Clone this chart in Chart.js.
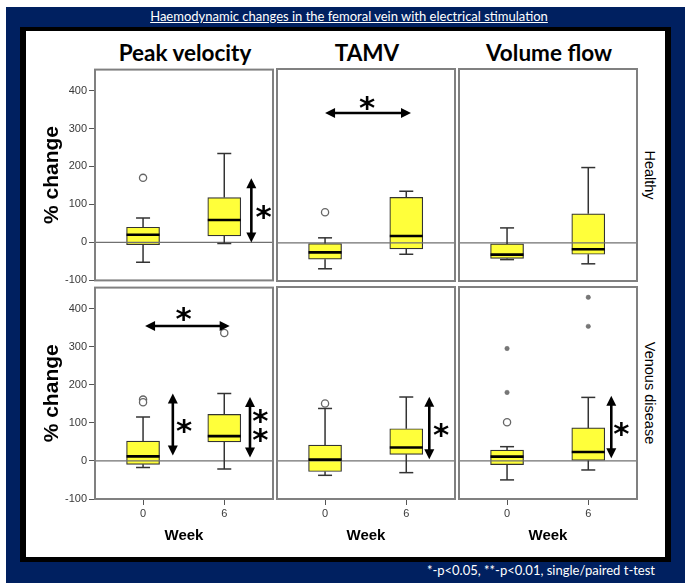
<!DOCTYPE html>
<html>
<head>
<meta charset="utf-8">
<script src="https://cdn.jsdelivr.net/npm/chart.js@4.4.1/dist/chart.umd.min.js"></script>
<style>
  body { margin: 0; width: 685px; height: 583px; position: relative; background: #fff; overflow: hidden; }
  .navy { position: absolute; left: 6px; top: 7px; width: 679px; height: 576px; background: #002060; }
  .frame { position: absolute; left: 20px; top: 27px; width: 639px; height: 526px; background: #fff;
           border-style: solid; border-color: #000; border-width: 4px 6px 5px 6px; }
  .txt { position: absolute; transform: translate(-50%, -50%); white-space: nowrap; }
  .title { left: 349px; top: 16px; color: #fff; font: 13px Lato, sans-serif; text-decoration: underline; }
  .col { top: 52px; font: bold 22.5px Lato, sans-serif; color: #000; }
  .row { left: 650px; font: 14.5px "Liberation Sans", sans-serif; color: #000; transform: translate(-50%, -50%) rotate(90deg); }
  .note { right: 30px; top: 562px; position: absolute; color: #fff; font: 13px Lato, sans-serif; }
  canvas { position: absolute; }
</style>
</head>
<body>
<div class="navy"></div>
<div class="frame"></div>
<div class="txt title">Haemodynamic changes in the femoral vein with electrical stimulation</div>
<div class="note">*-p&lt;0.05, **-p&lt;0.01, single/paired t-test</div>
<div id="wrap"></div>
<script>
const weeks = [0, 6];
const measures = ['Peak velocity', 'TAMV', 'Volume flow'];
const groups = ['Healthy', 'Venous disease'];
const yTicks = [-100, 0, 100, 200, 300, 400];

// box stats per week: [min, q1, median, q3, max]
const healthyPeak = [[-52, -6, 20, 40, 64], [-3, 17, 59, 118, 234]];
const healthyTamv = [[-68, -43, -25, -2, 13], [-30, -16, 18, 119, 135]];
const healthyFlow = [[-44, -41, -31, -3, 39], [-55, -30, -17, 76, 197]];
const venousPeak = [[-17, -9, 12, 52, 115], [-21, 50, 65, 122, 177]];
const venousTamv = [[-38, -28, 3, 41, 137], [-31, 17, 35, 84, 167]];
const venousFlow = [[-50, -10, 11, 28, 37], [-24, 1, 23, 86, 166]];

// outliers (open circles) and extremes (small dots), per week
const healthyPeakOut = [[170], []];
const healthyTamvOut = [[80], []];
const healthyFlowOut = [[], []];
const venousPeakOut = [[161, 154], [336]];
const venousTamvOut = [[150], []];
const venousFlowOut = [[101], []];
const venousFlowExt = [[294, 179], [428, 352]];

// significance arrows [x1, y1, x2, y2] and asterisks [x, y]
const healthyPeakArrows = [[8, 0, 8, 169]];
const healthyPeakStars = [[8.9, 78]];
const healthyTamvArrows = [[0, 340, 6.35, 340]];
const healthyTamvStars = [[3.1, 365]];
const venousPeakArrows = [[0.15, 354, 6.4, 354], [2.2, 14, 2.2, 177], [7.9, 9, 7.9, 168]];
const venousPeakStars = [[3.0, 384], [3.04, 90], [8.67, 116], [8.67, 68]];
const venousTamvArrows = [[7.7, 4, 7.7, 168]];
const venousTamvStars = [[8.57, 79]];
const venousFlowArrows = [[7.7, 7, 7.7, 170]];
const venousFlowStars = [[8.44, 81]];

const panels = [
  { row: 0, col: 0, box: healthyPeak, out: healthyPeakOut, ext: [[], []], arrows: healthyPeakArrows, stars: healthyPeakStars },
  { row: 0, col: 1, box: healthyTamv, out: healthyTamvOut, ext: [[], []], arrows: healthyTamvArrows, stars: healthyTamvStars },
  { row: 0, col: 2, box: healthyFlow, out: healthyFlowOut, ext: [[], []], arrows: [], stars: [] },
  { row: 1, col: 0, box: venousPeak, out: venousPeakOut, ext: [[], []], arrows: venousPeakArrows, stars: venousPeakStars },
  { row: 1, col: 1, box: venousTamv, out: venousTamvOut, ext: [[], []], arrows: venousTamvArrows, stars: venousTamvStars },
  { row: 1, col: 2, box: venousFlow, out: venousFlowOut, ext: venousFlowExt, arrows: venousFlowArrows, stars: venousFlowStars }
];

// layout
const colLeft = [95, 277, 459];
const rowTop = [69, 287];
const W = 178, H = 212, PAD = 8;
const Y_AXIS_W = 55, X_AXIS_H = 46;
const X_MIN = -3.55, X_MAX = 9.6, Y_MIN = -100, Y_MAX = 455;
const tickFont = { family: 'Liberation Sans', size: 11 };

// headings
const wrap = document.getElementById('wrap');
function addText(cls, text, left, top) {
  const d = document.createElement('div');
  d.className = 'txt ' + cls;
  d.textContent = text;
  d.style.left = left + 'px';
  if (top != null) d.style.top = top + 'px';
  wrap.appendChild(d);
}
measures.forEach((m, i) => addText('col', m, colLeft[i] + W / 2 + 1, null));
groups.forEach((g, i) => addText('row', g, 650, rowTop[i] + H / 2));

function drawArrow(ctx, x1, y1, x2, y2) {
  const len = Math.hypot(x2 - x1, y2 - y1);
  const ux = (x2 - x1) / len, uy = (y2 - y1) / len;
  const hl = 10, hw = 5;
  ctx.lineWidth = 2.6;
  ctx.beginPath();
  ctx.moveTo(x1 + ux * hl * 0.8, y1 + uy * hl * 0.8);
  ctx.lineTo(x2 - ux * hl * 0.8, y2 - uy * hl * 0.8);
  ctx.stroke();
  [[x1, y1, -1], [x2, y2, 1]].forEach(([tx, ty, s]) => {
    const bx = tx - s * ux * hl, by = ty - s * uy * hl;
    ctx.beginPath();
    ctx.moveTo(tx, ty);
    ctx.lineTo(bx - uy * hw, by + ux * hw);
    ctx.lineTo(bx + uy * hw, by - ux * hw);
    ctx.closePath();
    ctx.fill();
  });
}

function annotator(p) {
  return {
    id: 'annotate',
    afterDatasetsDraw(chart) {
      const { ctx, chartArea: a, scales: { x, y } } = chart;
      ctx.save();
      ctx.strokeStyle = '#808080';
      ctx.lineWidth = 2;
      ctx.strokeRect(a.left, a.top, a.width, a.height);
      ctx.fillStyle = '#000';
      ctx.strokeStyle = '#000';
      p.arrows.forEach(([x1, y1, x2, y2]) =>
        drawArrow(ctx, x.getPixelForValue(x1), y.getPixelForValue(y1), x.getPixelForValue(x2), y.getPixelForValue(y2)));
      ctx.font = 'bold 31px "DejaVu Sans"';
      ctx.textAlign = 'center';
      ctx.textBaseline = 'alphabetic';
      const m = ctx.measureText('*');
      const shift = (m.actualBoundingBoxAscent - m.actualBoundingBoxDescent) / 2;
      p.stars.forEach(([sx, sy]) => ctx.fillText('*', x.getPixelForValue(sx), y.getPixelForValue(sy) + shift));
      ctx.restore();
    }
  };
}

function makePanel(p) {
  const showY = p.col === 0, showX = p.row === 1;
  const yW = showY ? Y_AXIS_W : 0;
  const xH = showX ? X_AXIS_H : 0;
  const cv = document.createElement('canvas');
  const cw = W + yW + 2 * PAD, ch = H + xH + 2 * PAD;
  cv.width = cw; cv.height = ch;
  cv.style.left = (colLeft[p.col] - yW - PAD) + 'px';
  cv.style.top = (rowTop[p.row] - PAD) + 'px';
  cv.style.width = cw + 'px'; cv.style.height = ch + 'px';
  wrap.appendChild(cv);

  const boxData = weeks.map((w, i) => ({ x: w, y: [p.box[i][1], p.box[i][3]] }));
  const whiskers = weeks.flatMap((w, i) => [
    { x: w, y: p.box[i][4] }, { x: w, y: p.box[i][3] }, { x: w, y: null },
    { x: w, y: p.box[i][1] }, { x: w, y: p.box[i][0] }, { x: w, y: null }
  ]);
  const caps = weeks.flatMap((w, i) => [{ x: w, y: p.box[i][0] }, { x: w, y: p.box[i][4] }]);
  const medians = weeks.map((w, i) => ({ x: w, y: p.box[i][2] }));
  const outliers = weeks.flatMap((w, i) => p.out[i].map(v => ({ x: w, y: v })));
  const extremes = weeks.flatMap((w, i) => p.ext[i].map(v => ({ x: w, y: v })));

  new Chart(cv, {
    type: 'bar',
    data: {
      datasets: [
        { data: boxData, backgroundColor: '#ffff3a', borderColor: '#333', borderWidth: 1.2,
          borderSkipped: false, barThickness: 33, grouped: false, order: 5 },
        { type: 'line', data: [{ x: X_MIN, y: 0 }, { x: X_MAX, y: 0 }], borderColor: '#707070',
          borderWidth: 1.2, pointRadius: 0, order: 4 },
        { type: 'line', data: whiskers, borderColor: '#333', borderWidth: 1.5, pointRadius: 0,
          spanGaps: false, order: 3 },
        { type: 'line', data: caps, showLine: false, pointStyle: 'line', pointRadius: 7,
          pointBorderColor: '#333', pointBorderWidth: 1.5, order: 2 },
        { type: 'line', data: medians, showLine: false, pointStyle: 'line', pointRadius: 16.5,
          pointBorderColor: '#000', pointBorderWidth: 2.6, order: 1 },
        { type: 'line', data: outliers, showLine: false, pointStyle: 'circle', pointRadius: 3.6,
          pointBackgroundColor: '#fff', pointBorderColor: '#666', pointBorderWidth: 1.3, order: 0 },
        { type: 'line', data: extremes, showLine: false, pointStyle: 'circle', pointRadius: 2.2,
          pointBackgroundColor: '#777', pointBorderColor: '#666', pointBorderWidth: 0.5, order: 0 }
      ]
    },
    options: {
      responsive: false,
      animation: false,
      events: [],
      layout: { padding: PAD, autoPadding: false },
      plugins: { legend: { display: false }, tooltip: { enabled: false } },
      scales: {
        x: {
          type: 'linear', min: X_MIN, max: X_MAX, offset: false,
          display: showX,
          afterBuildTicks: s => { s.ticks = weeks.map(v => ({ value: v })); },
          afterFit: s => { s.height = xH; },
          grid: { drawOnChartArea: false, drawTicks: true, tickLength: 6, tickColor: '#555', offset: false },
          border: { display: false },
          ticks: { color: '#3a3a3a', font: tickFont, padding: 2, maxRotation: 0 },
          title: { display: true, text: 'Week', color: '#000', padding: 0,
                   font: { family: 'Liberation Sans', size: 15, weight: 'bold' } }
        },
        y: {
          min: Y_MIN, max: Y_MAX,
          display: showY,
          afterBuildTicks: s => { s.ticks = yTicks.map(v => ({ value: v })); },
          afterFit: s => { s.width = yW; },
          grid: { drawOnChartArea: false, drawTicks: true, tickLength: 6, tickColor: '#555' },
          border: { display: false },
          ticks: { color: '#3a3a3a', font: tickFont, padding: 2 },
          title: { display: true, text: '% change', color: '#000', padding: 0,
                   font: { family: 'Liberation Sans', size: 21, weight: 'bold' } }
        }
      }
    },
    plugins: [annotator(p)]
  });
}

panels.forEach(makePanel);
</script>
</body>
</html>
